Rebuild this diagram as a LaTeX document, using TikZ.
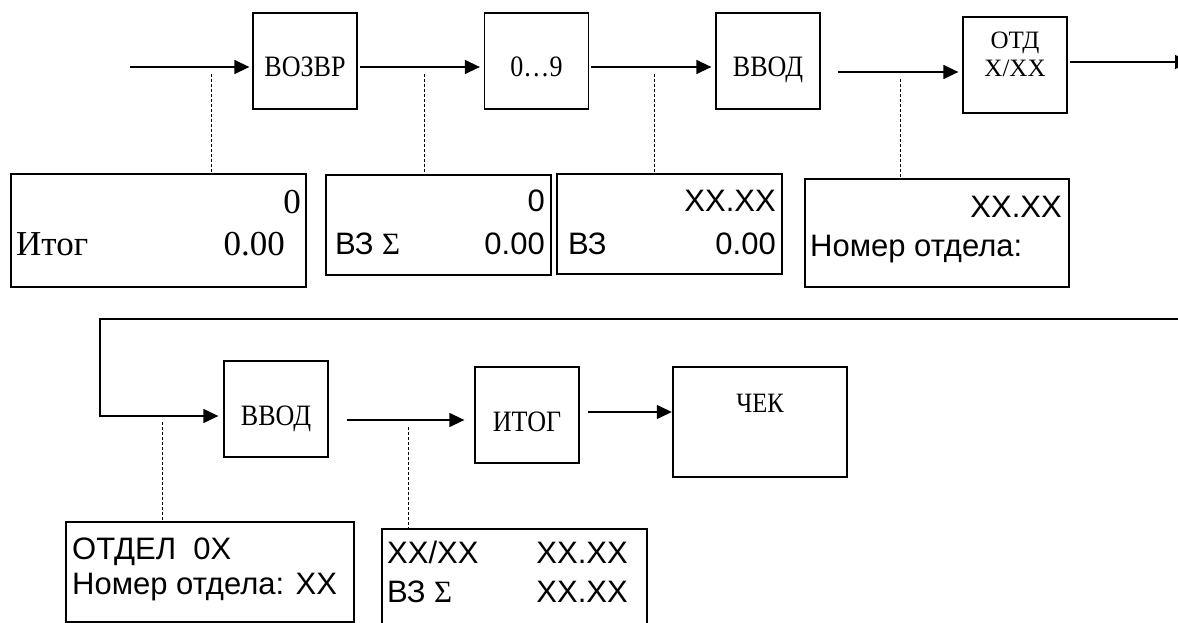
\documentclass[tikz,border=0pt]{standalone}
\usepackage{fontspec}
\setmainfont{Liberation Serif}
\setsansfont{Liberation Sans}
\newfontfamily\keyfont[FakeStretch=0.88]{Liberation Serif}
\usetikzlibrary{arrows.meta}

\begin{document}
\begin{tikzpicture}[x=1pt, y=-1pt,
  key/.style={rectangle, draw, line width=1.3pt, minimum width=104pt, minimum height=96pt, text height=32pt, text depth=0pt, font=\keyfont\fontsize{29.6}{32}\selectfont},
  disp/.style={rectangle, draw, line width=2.2pt},
  dtxt/.style={inner sep=0pt, font=\sffamily\fontsize{31}{36}\selectfont},
  stxt/.style={inner sep=0pt, font=\fontsize{35}{40}\selectfont},
  otxt/.style={inner sep=0pt, font=\fontsize{25}{28}\selectfont},
  arr/.style={line width=1.4pt, -{Triangle[length=15pt,width=14pt]}},
  tick/.style={line width=0.6pt, dash pattern=on 3pt off 2pt}]
\useasboundingbox (0,0) rectangle (1178,623);

%% PRIMERA FILA
\coordinate (In) at (130,67);
\node[key] at (305,61) (Vozvr) {ВОЗВР};
\node[key] at (536.5,61) (Cifr) {0…9};
\node[key] at (768,61) (Vvod) {ВВОД};
\node[key] at (1015,65) (Otd) {};
\node[otxt] at (1015,43) (OtdTxt1) {ОТД};
\node[otxt] at (1015,68) (OtdTxt2) {X/XX};
\coordinate (Out) at (1190,62);

% Flechas
\draw[arr] (In) -- ([yshift=-6pt,xshift=-3pt]Vozvr.west);
\draw[arr] ([yshift=-6pt,xshift=2pt]Vozvr.east) -- ([yshift=-6pt,xshift=-4pt]Cifr.west);
\draw[arr] ([yshift=-6pt,xshift=2pt]Cifr.east) -- ([yshift=-6pt,xshift=-4pt]Vvod.west);
\draw[arr] ([yshift=-11pt,xshift=17pt]Vvod.east) -- ([yshift=-7pt,xshift=-4pt]Otd.west);
\draw[arr] ([yshift=3pt,xshift=2pt]Otd.east) -- (Out);

% Indicadores
\node[disp, minimum width=295pt, minimum height=113pt] at (158.5,230.5) (Ind1) {};
\node[disp, minimum width=225pt, minimum height=100pt] at (438.5,225) (Ind2) {};
\node[disp, minimum width=225pt, minimum height=100pt] at (669.5,224) (Ind3) {};
\node[disp, minimum width=264pt, minimum height=108pt] at (937,233) (Ind4) {};

\node[stxt, anchor=base east] at (301,213) (Ind1a) {0};
\node[stxt, anchor=base west] at (16,255) (Ind1b) {Итог};
\node[stxt, anchor=base east] at (285,255) (Ind1c) {0.00};

\node[dtxt, anchor=base east] at (545,211) (Ind2a) {0};
\node[dtxt, anchor=base west] at (335,254) (Ind2b) {ВЗ {\rmfamily Σ}};
\node[dtxt, anchor=base east] at (545,254) (Ind2c) {0.00};

\node[dtxt, anchor=base east] at (776,211) (Ind3a) {XX.XX};
\node[dtxt, anchor=base west] at (568,254) (Ind3b) {ВЗ};
\node[dtxt, anchor=base east] at (776,254) (Ind3c) {0.00};

\node[dtxt, anchor=base east] at (1062,217) (Ind4a) {XX.XX};
\node[dtxt, anchor=base west] at (810,256) (Ind4b) {Номер отдела:};

% Lineas punteadas
\coordinate (t1) at (211,74);
\coordinate (t2) at (424,74);
\coordinate (t3) at (654,74);
\coordinate (t4) at (900,79);
\draw[tick] (t1) -- (t1 |- Ind1.north);
\draw[tick] (t2) -- (t2 |- Ind2.north);
\draw[tick] (t3) -- (t3 |- Ind3.north);
\draw[tick] (t4) -- (t4 |- Ind4.north);

%% SEGUNDA FILA
\coordinate (Loop) at (1178,319);
\coordinate (Back) at (100,416);
\node[key] at (276,409) (Vvod2) {ВВОД};
\node[key] at (527,415) (Itog) {ИТОГ};
\node[key, line width=2.4pt, minimum width=174pt, minimum height=110pt] at (760,422) (Chek) {};
\node[inner sep=0pt, font=\keyfont\fontsize{28}{30}\selectfont] at (760,403) (ChekTxt) {ЧЕК};

% Flechas
\draw[arr] (Loop) -| (Back) -- ([yshift=-7pt,xshift=-5pt]Vvod2.west);
\draw[arr] ([yshift=-11pt,xshift=18pt]Vvod2.east) -- ([yshift=-5pt,xshift=-10pt]Itog.west);
\draw[arr] ([yshift=3pt,xshift=8pt]Itog.east) -- ([yshift=10pt]Chek.west);

% Indicadores
\node[disp, minimum width=288pt, minimum height=100pt] at (210,572) (Ind5) {};
\node[disp, minimum width=265pt, minimum height=104pt] at (514.5,581) (Ind6) {};

\node[dtxt, anchor=base west] at (72,559) (Ind5a) {ОТДЕЛ~~0X};
\node[dtxt, anchor=base west] at (72,594) (Ind5b) {Номер отдела: XX};

\node[dtxt, anchor=base west] at (387,563) (Ind6a) {XX/XX};
\node[dtxt, anchor=base east] at (628,563) (Ind6b) {XX.XX};
\node[dtxt, anchor=base west] at (387,602) (Ind6c) {ВЗ {\rmfamily Σ}};
\node[dtxt, anchor=base east] at (628,602) (Ind6d) {XX.XX};

% Lineas punteadas
\coordinate (t5) at (162,422);
\coordinate (t6) at (408,427);
\draw[tick] (t5) -- (t5 |- Ind5.north);
\draw[tick] (t6) -- (t6 |- Ind6.north);

\end{tikzpicture}
\end{document}
